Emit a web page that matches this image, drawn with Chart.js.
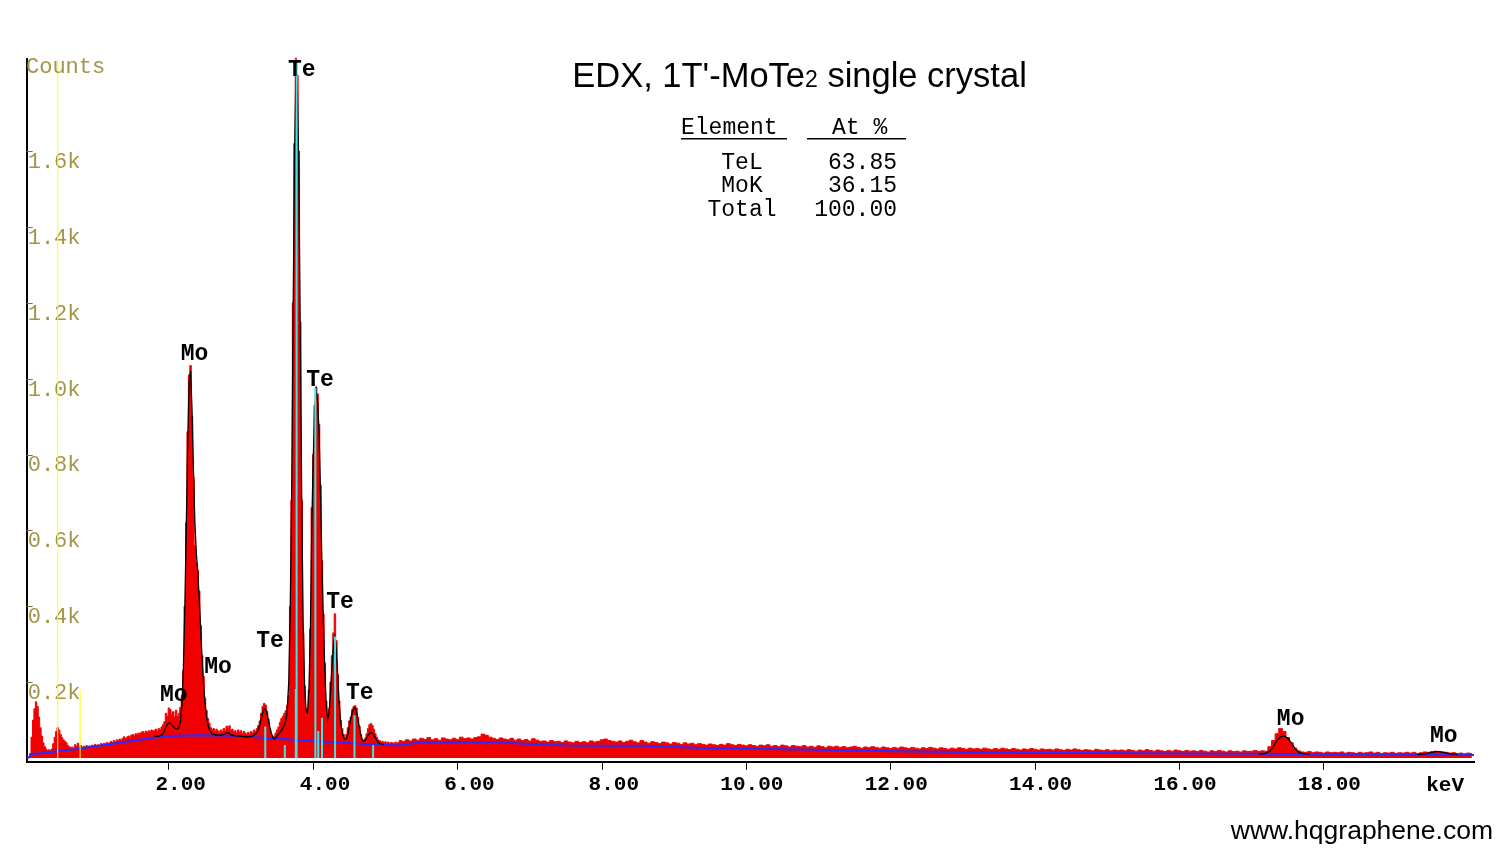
<!DOCTYPE html>
<html><head><meta charset="utf-8">
<script src="https://cdn.jsdelivr.net/npm/chart.js@4.4.1/dist/chart.umd.min.js"></script>
<style>html,body{margin:0;padding:0;background:#fff;overflow:hidden}#c{display:block}</style>
</head><body>
<canvas id="c" width="1499" height="855"></canvas>
<script>
// ---- spectrum counts, channel calibration (keV) ----
const specStartA = 0.00, specStepA = 0.02;
const spectrumA = [
  0,0,0,0,12,55,100,130,148,136,            // 0.00
  108,80,58,40,30,24,20,22,19,24,           // 0.20
  38,55,70,80,74,62,54,48,44,40,            // 0.40
  33,30,27,29,26,35,31,39,29,33,            // 0.60
  28,31,27,33,29,32,30,34,31,36,            // 0.80
  33,35,32,38,35,39,36,41,38,40,            // 1.00
  44,41,46,43,48,45,50,47,52,56,            // 1.20
  51,55,58,54,60,62,58,64,61,66,            // 1.40
  63,68,70,65,71,67,72,69,74,70,            // 1.60
  73,76,71,78,75,82,88,96,118,110,          // 1.80
  132,128,115,122,108,126,110,118,134,165,  // 2.00
  230,400,620,860,1010,1035,900,740,560,515,// 2.20
  495,440,350,270,215,158,126,104,92,80,    // 2.40
  74,78,70,76,72,68,74,70,78,72,            // 2.60
  84,80,85,72,76,68,72,66,74,68,            // 2.80
  72,65,70,66,62,68,64,70,66,74,            // 3.00
  70,78,86,98,118,136,144,140,124,102,      // 3.20
  78,62,55,58,66,74,82,94,104,110,          // 3.40
  118,125,140,165,400,680,1200,1620,1845,1800, // 3.60
  1600,1150,680,330,190,130,112,180,340,660,   // 3.80
  800,930,978,960,880,720,520,380,250,150,  // 4.00
  105,130,200,270,330,380,310,220,150,100,  // 4.20
  78,62,54,62,80,98,108,128,136,138,        // 4.40
  132,108,84,62,48,44,52,64,78,88,          // 4.60
  91,86,76,64,55,48,46,42,44,40,            // 4.80
  43,39,42,38,41,40,37,42,39,41             // 5.00
];
const specStartB = 5.20, specStepB = 0.05;
const spectrumB = [
  46,44,48,45,50,47,52,49,54,48,51,47,53,50,48,52,49,55,51,53, // 5.20
  50,54,56,63,60,55,52,49,53,50,48,52,47,50,46,49,45,51,47,44, // 6.20
  45,42,46,43,44,41,45,42,40,44,41,43,40,45,42,44,48,50,46,44, // 7.20
  42,45,41,44,47,43,40,46,42,39,43,41,38,42,40,37,41,39,36,40, // 8.20
  37,39,35,38,36,34,37,35,33,36,34,38,35,33,36,34,32,35,33,31, // 9.20
  34,32,35,31,33,30,34,32,29,33,31,30,33,29,31,28,32,30,27,31, // 10.20
  29,31,28,30,27,29,31,28,26,29,27,30,28,26,29,27,25,28,26,29, // 11.20
  27,25,28,26,24,27,25,28,26,24,27,25,23,26,24,27,25,23,26,24, // 12.20
  25,23,26,24,22,25,23,26,24,22,25,23,21,24,22,25,23,21,24,22, // 13.20
  23,21,24,22,20,23,21,24,22,20,22,21,19,23,21,20,22,19,21,20, // 14.20
  21,19,22,20,18,21,19,22,20,18,21,19,17,20,18,21,19,17,20,18, // 15.20
  19,17,20,18,16,19,17,20,18,16,19,17,18,16,19,17,18,20,17,19, // 16.20
  18,30,46,64,78,70,54,40,26,19,16,15,17,14,16,15,13,16,14,15, // 17.20
  14,16,13,15,14,12,15,13,14,16,13,15,12,14,13,15,12,14,13,15, // 18.20
  13,15,12,14,16,15,17,18,17,16,15,13,14,12,13,11,13,12        // 19.20
];
// ---- fitted peak profile (black) ----
const fitStartLow = 1.80, fitStepLow = 0.02;
const fitLow = [
  57,57,58,58,59,61,65,72,82,89,            // 1.80
  92,92,88,83,79,77,77,80,95,140,           // 2.00
  230,390,600,830,990,1020,920,760,620,540, // 2.20
  490,420,340,260,195,145,110,88,75,68,     // 2.40
  64,62,61,61,60,60,60,61,62,64,            // 2.60
  66,66,64,61,60,59,59,58,58,58,            // 2.80
  57,57,56,56,56,56,56,57,58,60,            // 3.00
  63,68,76,88,104,120,130,128,116,98,       // 3.20
  80,64,54,50,53,58,63,68,73,79,            // 3.40
  87,98,125,200,380,680,1150,1580,1810,1760,// 3.60
  1540,1120,680,350,190,125,118,180,330,620,// 3.80
  790,920,968,940,860,700,510,360,230,140,  // 4.00
  102,120,180,245,300,318,285,210,140,92,   // 4.20
  68,54,49,52,64,84,104,120,131,133,        // 4.40
  120,100,78,60,48,44,46,54,60,65,          // 4.60
  67,66,60,53,46,41,38,37,36,35             // 4.80
];
const fitStartKa = 17.10, fitStepK = 0.05;
const fitMoKa = [11,11,13,18,30,46,56,58,52,40,25,15,12,11,11];
const fitStartKb = 19.30;
const fitMoKb = [9,10,11,13,15,17,17,15,13,11,10,9];
// ---- background (blue) ----
const bgE = [0.03,0.07,0.09,0.7,1.4,1.96,2.4,2.9,3.4,4.0,4.6,5.2,5.45,6.5,7.0,7.5,8.0,8.6,9.0,9.5,10.3,11.2,12.1,13.0,14.0,15.0,16.0,17.0,18.0,19.0,20.08];
const bgC = [0,3,10,23,43,58,60,59,52,45,38,33,41,42,37,33,32,32,29,26,24,21,18,16,14,13,12,11,10,9,8];
// ---- element line markers (cyan) and cursors (yellow) ----
const lineE = [3.335,3.606,3.758,3.769,4.029,4.069,4.121,4.302,4.571,4.829];
const lineH = [83,34,182,1842,975,71,106,320,113,34];
const cursorE = [0.46,0.77];
const cursorH = [1842,181];
// ---- ticks ----
const xTicks = [2,4,6,8,10,12,14,16,18];
const yTicks = [200,400,600,800,1000,1200,1400,1600];
// ---- peak labels ----
const peakNames = ['Te','Mo','Te','Te','Te','Mo','Mo','Te','Mo','Mo'];
const peakE = [3.840,2.355,4.093,4.370,3.400,2.680,2.067,4.643,17.54,19.66];
const peakC = [1798,1050,980,395,293,224,151,156,87,43];
// ---- quantification table ----
const tableElements = ['TeL','MoK','Total'];
const tableAt = ['63.85','36.15','100.00'];

const MONO = '"Liberation Mono","Courier New",monospace';
const SANS = '"Liberation Sans",Arial,sans-serif';

function channels(start, step, vals){
  return vals.map((v,i)=>({x:+(start+i*step).toFixed(3), y:v}));
}
function sticks(E,H){
  const out=[];
  E.forEach((e,i)=>{ out.push({x:e,y:0},{x:e,y:H[i]},{x:e,y:null}); });
  return out;
}
const specData = channels(specStartA,specStepA,spectrumA).concat(channels(specStartB,specStepB,spectrumB));
const fitData = channels(fitStartLow,fitStepLow,fitLow)
  .concat([{x:5.0,y:null}], channels(fitStartKa,fitStepK,fitMoKa), [{x:18.0,y:null}], channels(fitStartKb,fitStepK,fitMoKb));
const bgData = bgE.map((e,i)=>({x:e,y:bgC[i]}));

const decor = {
  id:'decor',
  afterDraw(chart){
    const {ctx, scales:{x,y}, chartArea:ca} = chart;
    ctx.save();
    // y tick marks (inside)
    ctx.strokeStyle = '#7a7040'; ctx.lineWidth = 1;
    yTicks.forEach(v=>{
      const py = Math.round(y.getPixelForValue(v))+0.5;
      ctx.beginPath(); ctx.moveTo(ca.left, py); ctx.lineTo(ca.left+6, py); ctx.stroke();
    });
    // Counts
    ctx.fillStyle = '#a39548'; ctx.font = '22px '+MONO; ctx.textAlign='left'; ctx.textBaseline='alphabetic';
    ctx.fillText('Counts', 26, 73);
    // keV
    ctx.fillStyle = '#000'; ctx.font = 'bold 21px '+MONO; ctx.textAlign='right';
    ctx.fillText('keV', 1464, 791);
    // peak labels
    ctx.font = 'bold 23px '+MONO; ctx.textAlign='center';
    peakNames.forEach((n,i)=>{
      ctx.fillText(n, x.getPixelForValue(peakE[i]), y.getPixelForValue(peakC[i]));
    });
    // title
    const t1 = "EDX, 1T'-MoTe", t2 = '2', t3 = ' single crystal';
    ctx.font = '34.5px '+SANS; const w1 = ctx.measureText(t1).width, w3 = ctx.measureText(t3).width;
    ctx.font = '23px '+SANS; const w2 = ctx.measureText(t2).width;
    let tx = 799.5 - (w1+w2+w3)/2;
    ctx.textAlign='left';
    ctx.font = '34.5px '+SANS; ctx.fillText(t1, tx, 87); tx += w1;
    ctx.font = '23px '+SANS; ctx.fillText(t2, tx, 87); tx += w2;
    ctx.font = '34.5px '+SANS; ctx.fillText(t3, tx, 87);
    // table
    ctx.font = '23px '+MONO;
    ctx.fillText('Element', 681, 134);
    ctx.fillText('At %', 832, 134);
    ctx.fillRect(681, 138, 106, 1.5);
    ctx.fillRect(807, 138, 99, 1.5);
    tableElements.forEach((e,i)=>{
      ctx.textAlign='center'; ctx.fillText(e, 742, 168.5+i*23.5);
      ctx.textAlign='right'; ctx.fillText(tableAt[i], 897, 168.5+i*23.5);
    });
    // watermark
    ctx.font = '26.5px '+SANS; ctx.textAlign='right';
    ctx.fillText('www.hqgraphene.com', 1493, 839);
    ctx.restore();
  }
};

new Chart(document.getElementById('c'), {
  type:'line',
  data:{ datasets:[
    {data:specData, stepped:'middle', fill:'origin', backgroundColor:'#f00000', borderColor:'#f00000', borderWidth:1, pointRadius:0, clip:{left:0,top:6,right:0,bottom:0}, order:5},
    {data:bgData, borderColor:'#2a2aff', borderWidth:2, pointRadius:0, fill:false, tension:0, order:4},
    {data:fitData, borderColor:'#000', borderWidth:1.3, pointRadius:0, fill:false, tension:0, spanGaps:false, order:3},
    {data:sticks(lineE,lineH), borderColor:'#3ee6e6', borderWidth:2, pointRadius:0, fill:false, spanGaps:false, order:2},
    {data:sticks(cursorE,cursorH), borderColor:'#ffff00', borderWidth:1, pointRadius:0, fill:false, spanGaps:false, order:1}
  ]},
  options:{
    responsive:false, animation:false, devicePixelRatio:1,
    events:[],
    layout:{padding:{left:26.7, top:59.3, right:25, bottom:53.2}},
    plugins:{legend:{display:false}, tooltip:{enabled:false}},
    scales:{
      x:{type:'linear', min:0.03, max:20.08,
        afterFit(s){ s.height = 40; },
        afterBuildTicks(s){ s.ticks = xTicks.map(v=>({value:v})); },
        grid:{display:true, drawOnChartArea:false, drawTicks:true, tickLength:8, color:'#000', lineWidth:1},
        border:{display:true, color:'#000', width:2},
        ticks:{autoSkip:false, maxRotation:0, minRotation:0, align:'end', labelOffset:37, padding:2, color:'#000',
          font:{family:MONO, size:21, weight:'bold'}, callback:v=>Number(v).toFixed(2)}
      },
      y:{type:'linear', min:-10, max:1842,
        afterFit(s){ s.width = 0; },
        afterBuildTicks(s){ s.ticks = yTicks.map(v=>({value:v})); },
        grid:{display:true, drawOnChartArea:false, drawTicks:false},
        border:{display:true, color:'#000', width:2},
        ticks:{mirror:true, padding:1, labelOffset:11, color:'#a39548',
          font:{family:MONO, size:22}, callback:v=>(v/1000).toFixed(1)+'k'}
      }
    }
  },
  plugins:[decor]
});
</script>
</body></html>
